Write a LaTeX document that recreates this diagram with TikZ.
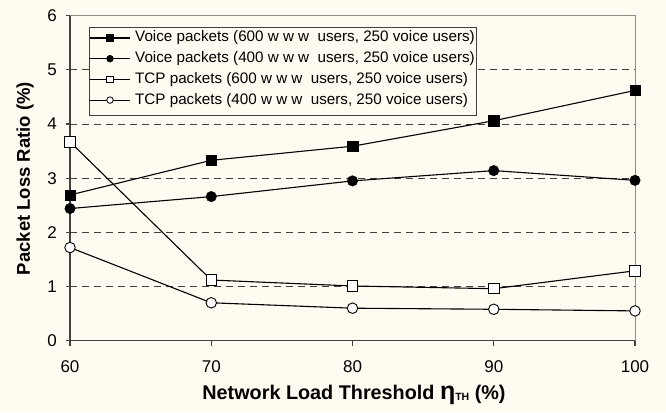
\documentclass[tikz,border=0pt]{standalone}
\usepackage{fontspec}
\setmainfont{Liberation Sans}
\usetikzlibrary{positioning,calc}
\definecolor{chartbg}{HTML}{FFFBF0}
\definecolor{axisgray}{HTML}{404040}
\definecolor{framegray}{HTML}{8C8C8C}

\begin{document}
\begin{tikzpicture}[
    x=1pt, y=1pt,
    every node/.style={font=\fontsize{17}{18}\selectfont, inner sep=0pt},
    gridline/.style={draw=axisgray, dash pattern=on 7pt off 5pt, line width=0.9pt},
    series/.style={draw=black, line width=1.1pt},
    sqfill/.style={rectangle, draw=black, fill=black, minimum size=10.5pt},
    dotfill/.style={circle, draw=black, fill=black, minimum size=10.5pt},
    sqopen/.style={rectangle, draw=black, fill=white, line width=0.9pt, minimum size=10.5pt},
    dotopen/.style={circle, draw=black, fill=white, line width=0.9pt, minimum size=10.5pt},
    axistitle/.style={font=\fontsize{18.5}{20}\selectfont\bfseries},
  ]
  \fill[chartbg] (0,0) rectangle (666,412);
  \useasboundingbox (0,0) rectangle (666,412);

  % plot area: x = threshold - 60, y = loss ratio
  \begin{scope}[shift={(70,71.3)}, x=14.125pt, y=54.17pt]
    \foreach \v in {1,...,5}{
      \draw[gridline] (0,\v) -- (40,\v);
    }
    \draw[framegray, line width=1pt] (0,6) -- (40,6) -- (40,0);
    \draw[axisgray, line width=1.4pt] (0,6) -- (0,0) -- (40,0);
    \foreach \v in {0,...,6}{
      \draw[axisgray, line width=1.2pt] (0,\v) -- ++(-4pt,0);
      \node[anchor=east] (ytick\v) at ([xshift=-13pt]0,\v) {\v};
    }
    \foreach \t in {60,70,80,90,100}{
      \pgfmathtruncatemacro{\xx}{\t-60}
      \draw[axisgray, line width=1.2pt] (\xx,0) -- ++(0,-5pt);
      \node (xtick\t) at ([yshift=-26pt]\xx,0) {\t};
    }

    % data points and lines
    \foreach \sname/\mk/\vals in {
        ta/sqopen/{3.67,1.12,1.01,0.96,1.29},
        tb/dotopen/{1.72,0.70,0.60,0.58,0.55},
        vb/dotfill/{2.44,2.66,2.95,3.14,2.96},
        va/sqfill/{2.69,3.33,3.59,4.06,4.62}}{
      \foreach \y [count=\i] in \vals{
        \coordinate (\sname\i) at ({10*(\i-1)},\y);
      }
      \foreach \i in {1,...,4}{
        \pgfmathtruncatemacro{\j}{\i+1}
        \path[series] (\sname\i) -- (\sname\j);
      }
      \foreach \i in {1,...,5}{
        \node[\mk] (\sname\i-mark) at (\sname\i) {};
      }
    }
  \end{scope}

  % legend
  \node[draw=axisgray, fill=chartbg, line width=1.2pt, minimum width=387.3pt,
    minimum height=87.7pt, anchor=north west] (legend) at (88.7,384.7) {};
  \begin{scope}[every node/.append style={font=\fontsize{15.2}{17}\selectfont}]
    \foreach \row/\mk/\txt in {
        0/sqfill/{Voice packets (600 w w w\ \ users, 250 voice users)},
        1/dotfill/{Voice packets (400 w w w\ \ users, 250 voice users)},
        2/sqopen/{TCP packets (600 w w w\ \ users, 250 voice users)},
        3/dotopen/{TCP packets (400 w w w\ \ users, 250 voice users)}}{
      \coordinate (key\row-a) at (90,{374-20.7*\row});
      \coordinate (key\row-b) at (130,{374-20.7*\row});
      \draw[series] (key\row-a) -- (key\row-b);
      \node[\mk, minimum size=6.5pt, line width=0.8pt] (key\row-mark) at ($(key\row-a)!0.5!(key\row-b)$) {};
      \node[anchor=west] (key\row-text) at ([xshift=5pt]key\row-b) {\txt};
    }
  \end{scope}

  % axis titles
  \node[axistitle, font=\fontsize{19.8}{21}\selectfont\bfseries] (xtitle) at (354,17)
    {Network Load Threshold {\fontsize{25}{25}\selectfont η}\raisebox{-1pt}{\fontsize{10.5}{10.5}\selectfont TH} (\%)};
  \node[axistitle, rotate=90] (ytitle) at (25,233.5) {Packet Loss Ratio (\%)};
\end{tikzpicture}
\end{document}
